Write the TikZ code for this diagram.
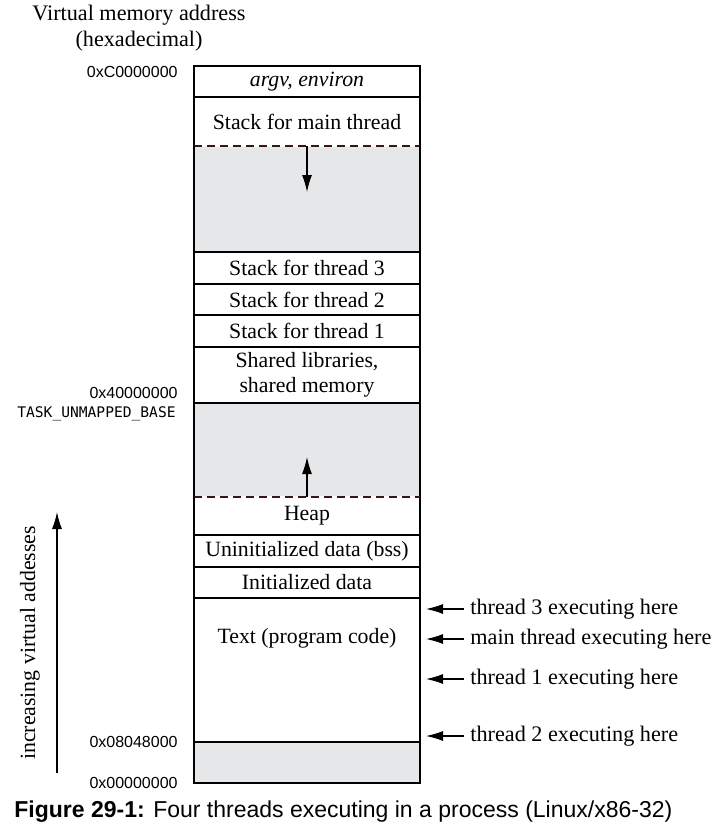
\documentclass[tikz,border=0pt]{standalone}
\usepackage{fontspec}
\setmainfont{Liberation Serif}
\setsansfont{Liberation Sans}
\setmonofont{DejaVu Sans Mono}
\usetikzlibrary{positioning,arrows.meta}
\definecolor{memgray}{HTML}{E6E7E9}
\definecolor{dashred}{HTML}{3A1515}
\tikzset{
  seg/.style={draw, line width=0.9pt, minimum width=113pt, inner sep=0pt, outer sep=0pt,
    align=center, font=\fontsize{10.9}{12.5}\selectfont},
  free/.style={seg, fill=memgray},
  hex/.style={font=\sffamily\fontsize{8}{9}\selectfont, inner sep=0pt},
  note/.style={font=\fontsize{11.1}{13}\selectfont, inner sep=3pt},
  arr/.style={-{Latex[length=8.5pt,width=5pt]}, line width=0.6pt},
  growth/.style={dashed, dash pattern=on 4pt off 2.5pt, line width=0.9pt, dashred}
}
\begin{document}
\begin{tikzpicture}[x=0.5pt, y=-0.5pt]
        \useasboundingbox (0,0) rectangle (719,836);
        \node[align=center, font=\fontsize{11.1}{12.8}\selectfont] (title) at (139,28) {Virtual memory address\\(hexadecimal)};
        % the segments, top to bottom
        \node[seg, minimum height=15.5pt, anchor=north] (argv) at (307,66) {\itshape argv, environ};
        \node[seg, minimum height=24.5pt, below=0pt of argv] (mainstk) {Stack for main thread};
        \node[free, minimum height=53pt, below=0pt of mainstk] (gap1) {};
        \node[seg, minimum height=16pt, below=0pt of gap1] (stk3) {Stack for thread 3};
        \node[seg, minimum height=15.5pt, below=0pt of stk3] (stk2) {Stack for thread 2};
        \node[seg, minimum height=16pt, below=0pt of stk2] (stk1) {Stack for thread 1};
        \node[seg, minimum height=28pt, below=0pt of stk1] (shlib) {Shared libraries,\\shared memory};
        \node[free, minimum height=47pt, below=0pt of shlib] (gap2) {};
        \node[seg, minimum height=19pt, below=0pt of gap2] (heap) {Heap};
        \node[seg, minimum height=16pt, below=0pt of heap] (bss) {Uninitialized data (bss)};
        \node[seg, minimum height=15.5pt, below=0pt of bss] (init) {Initialized data};
        \node[seg, minimum height=72pt, text depth=34pt, below=0pt of init] (text) {Text (program code)};
        \node[free, minimum height=20.5pt, below=0pt of text] (gap3) {};
        % growing edges
        \draw[white, line width=1.2pt] (gap1.north west) -- (gap1.north east);
        \draw[growth] (gap1.north west) -- (gap1.north east);
        \draw[white, line width=1.2pt] (heap.north west) -- (heap.north east);
        \draw[growth] (heap.north west) -- (heap.north east);
        \draw[seg] (gap1.north west) -- (gap1.south west) (gap1.north east) -- (gap1.south east);
        \draw[seg] (heap.north west) -- (heap.south west) (heap.north east) -- (heap.south east);
        \draw[arr] (gap1.north) -- ([yshift=-23pt]gap1.north);
        \draw[arr] (heap.north) -- ([yshift=20pt]heap.north);
        % addresses
        \node[hex, anchor=east] (atop) at (178,72) {0xC0000000};
        \node[hex, anchor=east] (amid) at (178,393) {0x40000000};
        \node[font=\ttfamily\fontsize{7.3}{9}\selectfont, inner sep=0pt, anchor=east] (tub) at (176,414) {TASK\_UNMAPPED\_BASE};
        \node[hex, anchor=east] (atext) at (178,742) {0x08048000};
        \node[hex, anchor=east] (azero) at (178,783) {0x00000000};
        % where the threads are
        \node[note, anchor=west] (ex3) at (464,609) {thread 3 executing here};
        \node[note, anchor=west] (exm) at (464,639) {main thread executing here};
        \node[note, anchor=west] (ex1) at (464,679) {thread 1 executing here};
        \node[note, anchor=west] (ex2) at (464,736) {thread 2 executing here};
        \foreach \e in {ex3,exm,ex1,ex2}
          \draw[arr, shorten >=3pt] (\e.west) -- (\e.west -| text.east);
        % direction of addresses
        \node[rotate=90, font=\fontsize{10.9}{12}\selectfont] (incr) at (30,643) {increasing virtual addesses};
        \coordinate (lo) at (57,773);
        \coordinate (hi) at (57,512);
        \draw[arr] (lo) -- (hi);
        \node[anchor=west, font=\sffamily\fontsize{11.5}{13}\selectfont, inner sep=0pt] (cap) at (14,812)
          {\textbf{Figure 29-1:} Four threads executing in a process (Linux/x86-32)};
      \end{tikzpicture}
\end{document}
